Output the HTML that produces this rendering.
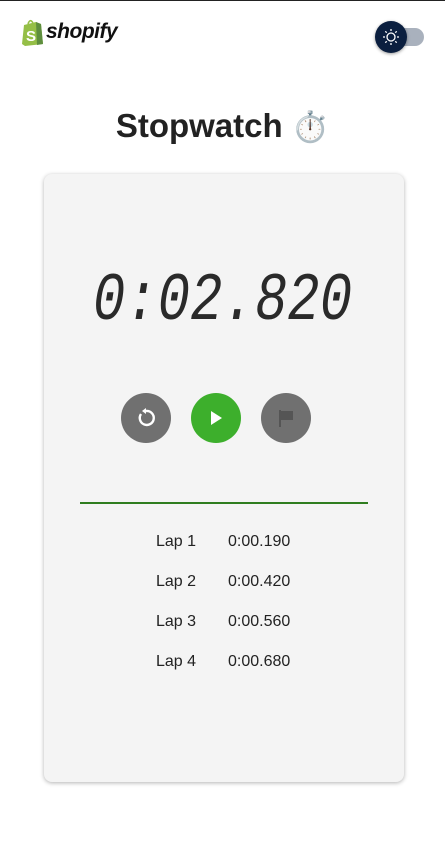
<!DOCTYPE html>
<html><head><meta charset="utf-8"><style>
body{margin:0;width:445px;height:862px;background:#fff;font-family:"Liberation Sans",sans-serif;position:relative;overflow:hidden;border-top:1px solid #222;box-sizing:border-box}
.abs{position:absolute}
.card{left:44px;top:173px;width:360px;height:608px;background:#f4f4f4;border-radius:8px;box-shadow:0 1px 4px rgba(0,0,0,.3)}
.btn{width:50px;height:50px;border-radius:50%;top:392px;display:flex;align-items:center;justify-content:center}
.lap{font-size:16px;color:#222}
</style></head><body>
<div class="abs" style="left:21px;top:17px;display:flex;align-items:center">
<svg width="22" height="28" viewBox="0 0 22 28"><path d="M3 7 L15 4 L20 6 L22 26 L4 28 L1 26 Z" fill="#95bf47"/><path d="M15 4 L20 6 L22 26 L16 27 Z" fill="#5e8e3e"/><path d="M7 6 Q9 0 12 5" stroke="#95bf47" stroke-width="1.6" fill="none"/><text x="5" y="23" font-size="15" font-weight="bold" fill="#fff" font-family="Liberation Sans">S</text></svg>
<span style="font-weight:bold;font-style:italic;font-size:21px;color:#111;margin-left:3px;letter-spacing:-0.5px">shopify</span></div>
<div class="abs" style="left:385px;top:27px;width:39px;height:18px;border-radius:9px;background:#a9b1bd"></div>
<div class="abs" style="left:375px;top:20px;width:32px;height:32px;border-radius:50%;background:#0b1f3f;box-shadow:0 1px 3px rgba(0,0,0,.4);display:flex;align-items:center;justify-content:center">
<svg width="18" height="18" viewBox="0 0 18 18" stroke="#fff" stroke-width="1.3" fill="none"><circle cx="9" cy="9" r="4"/><path d="M9 1v2M9 15v2M1 9h2M15 9h2M3.3 3.3l1.4 1.4M13.3 13.3l1.4 1.4M3.3 14.7l1.4-1.4M13.3 4.7l1.4-1.4"/></svg></div>
<div class="abs" style="left:0;width:445px;top:101px;text-align:center;font-size:33px;font-weight:bold;color:#222">Stopwatch <span style="font-family:'Noto Sans CJK SC',sans-serif;font-weight:normal;font-size:30px">⏱️</span></div>
<div class="abs card"></div>
<div class="abs" style="left:0;width:445px;top:268px;text-align:center;font-family:'Liberation Mono',monospace;font-style:italic;font-size:54px;color:#2a2a2a;transform:scaleY(1.25);transform-origin:center top;line-height:54px">0:02.820</div>
<div class="abs btn" style="left:121px;background:#707070">
<svg width="22" height="22" viewBox="0 0 22 22" fill="none" stroke="#fff" stroke-width="2.4"><path d="M6 7 A7 7 0 1 0 11 4"/><path d="M11 1 L7 4 L11 7 Z" fill="#fff" stroke="none"/></svg></div>
<div class="abs btn" style="left:191px;background:#3daf2c">
<svg width="14" height="16" viewBox="0 0 14 16"><path d="M2 1 L13 8 L2 15 Z" fill="#fff"/></svg></div>
<div class="abs btn" style="left:261px;background:#707070">
<svg width="16" height="18" viewBox="0 0 16 18"><path d="M1 1h2v17H1zM3 2h12v9H3z" fill="#555"/></svg></div>
<div class="abs" style="left:80px;top:501px;width:288px;height:2px;background:#2f7d1f"></div>
<div class="abs lap" style="left:156px;top:532px">Lap 1</div>
<div class="abs lap" style="left:228px;top:532px">0:00.190</div>
<div class="abs lap" style="left:156px;top:572px">Lap 2</div>
<div class="abs lap" style="left:228px;top:572px">0:00.420</div>
<div class="abs lap" style="left:156px;top:612px">Lap 3</div>
<div class="abs lap" style="left:228px;top:612px">0:00.560</div>
<div class="abs lap" style="left:156px;top:652px">Lap 4</div>
<div class="abs lap" style="left:228px;top:652px">0:00.680</div>
</body></html>
